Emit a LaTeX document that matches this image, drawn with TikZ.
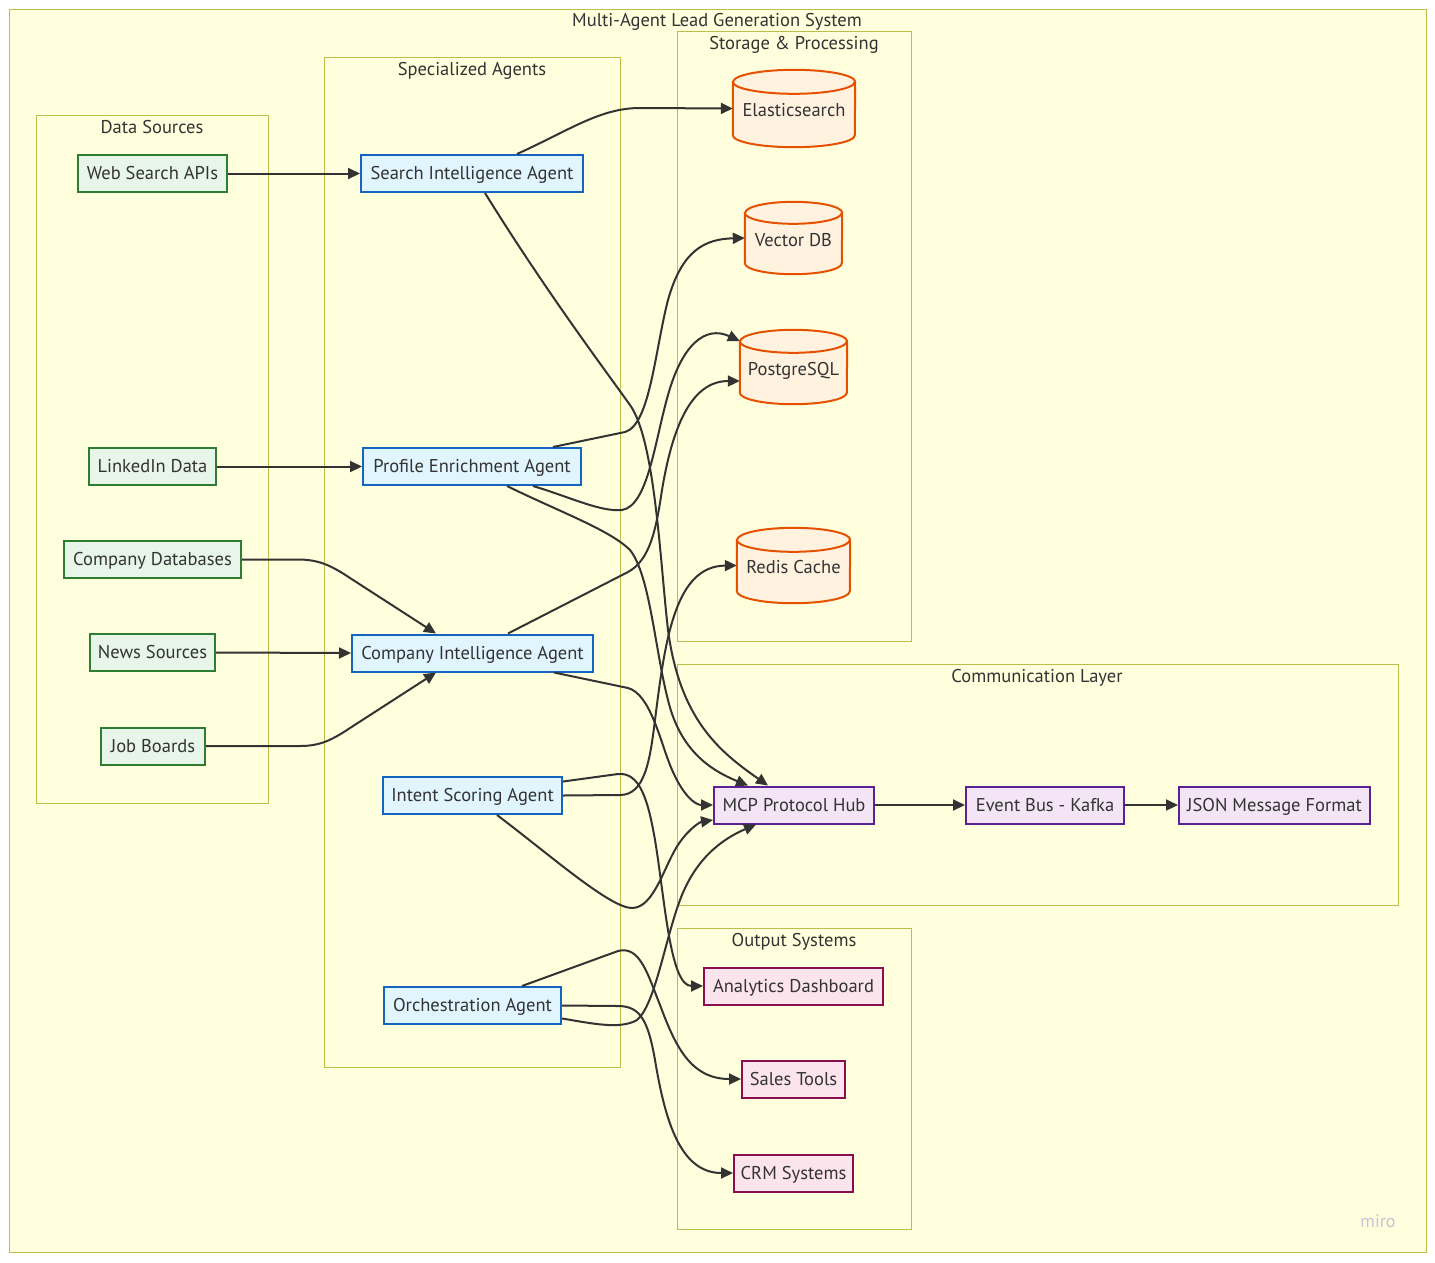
\documentclass[tikz,border=0pt]{standalone}
\usepackage{fontspec}
\setmainfont{PT Sans}
\usetikzlibrary{arrows.meta}
\definecolor{txt}{HTML}{333333}
\definecolor{edgec}{HTML}{333333}
\definecolor{clfill}{HTML}{FFFFDE}
\definecolor{clline}{HTML}{BDBD4A}
\definecolor{dsfill}{HTML}{E8F5E9}
\definecolor{dsline}{HTML}{2E7D32}
\definecolor{agfill}{HTML}{E1F5FE}
\definecolor{agline}{HTML}{1565C0}
\definecolor{stfill}{HTML}{FFF3E0}
\definecolor{stline}{HTML}{E65100}
\definecolor{cmfill}{HTML}{F3E5F5}
\definecolor{cmline}{HTML}{5B2296}
\definecolor{oufill}{HTML}{FCE4EC}
\definecolor{ouline}{HTML}{880E4F}
\definecolor{mirocol}{HTML}{C8C2D6}
\pgfdeclarelayer{bg}
\pgfdeclarelayer{mid}
\pgfsetlayers{bg,mid,main}
\newcommand\dbcyl[3]{%
  \filldraw[dbline] ([yshift=-#3]#1.north west) -- ([yshift=#3]#1.south west)
    arc[start angle=180,end angle=360,x radius=#2,y radius=#3]
    -- ([yshift=-#3]#1.north east)
    arc[start angle=0,end angle=180,x radius=#2,y radius=#3] -- cycle;
  \draw[dbline] ([yshift=-#3]#1.north west) arc[start angle=180,end angle=360,x radius=#2,y radius=#3];
}
\begin{document}
\begin{tikzpicture}[x=1pt,y=-1pt,
  font=\fontsize{18.5}{22}\selectfont, text=txt,
  every node/.append style={text height=14pt, text depth=1.5pt},
  clusterbox/.style={draw=clline, fill=clfill, line width=1pt, inner sep=0pt, text height=0pt, text depth=0pt},
  cltitle/.style={inner sep=0pt, anchor=center},
  basebox/.style={rectangle, line width=2pt, inner sep=0pt, minimum height=37pt},
  dsnode/.style={basebox, draw=dsline, fill=dsfill},
  agnode/.style={basebox, draw=agline, fill=agfill},
  cmnode/.style={basebox, draw=cmline, fill=cmfill},
  ounode/.style={basebox, draw=ouline, fill=oufill},
  dbbox/.style={rectangle, inner sep=0pt, text height=18pt},
  dbline/.style={draw=stline, fill=stfill, line width=2pt},
  flowline/.style={draw=edgec, line width=2pt, -{Triangle[length=12pt,width=11pt]}},
  mirostyle/.style={text=mirocol, inner sep=0pt, font=\fontsize{18}{20}\selectfont}
]
\useasboundingbox (0,0) rectangle (1435,1262);

% clusters
\begin{pgfonlayer}{bg}
\fill[white] (0,0) rectangle (1435,1262);
\node[clusterbox, minimum width=1417pt, minimum height=1243pt] (outer) at (717.5,630.5) {};
\node[clusterbox, minimum width=232pt, minimum height=688pt] (cds) at (152,459) {};
\node[clusterbox, minimum width=296pt, minimum height=1010pt] (csa) at (472,562) {};
\node[clusterbox, minimum width=234pt, minimum height=610pt] (csp) at (794,336) {};
\node[clusterbox, minimum width=721pt, minimum height=241pt] (ccl) at (1037.5,784.5) {};
\node[clusterbox, minimum width=234pt, minimum height=301pt] (cos) at (794,1078.5) {};
\end{pgfonlayer}

\node[cltitle] (touter) at (717,20) {Multi-Agent Lead Generation System};
\node[cltitle] (tds) at (152,127) {Data Sources};
\node[cltitle] (tsa) at (472,69) {Specialized Agents};
\node[cltitle] (tsp) at (794,43) {Storage \& Processing};
\node[cltitle] (tcl) at (1037,676) {Communication Layer};
\node[cltitle] (tos) at (794,940) {Output Systems};

% data sources
\node[dsnode, minimum width=149pt] (wsa) at (152.5,173.5) {Web Search APIs};
\node[dsnode, minimum width=127pt] (lnk) at (152.5,466.5) {LinkedIn Data};
\node[dsnode, minimum width=177pt] (cdb) at (152.5,559.5) {Company Databases};
\node[dsnode, minimum width=125pt] (news) at (152.5,652.5) {News Sources};
\node[dsnode, minimum width=104pt] (jb) at (153,746) {Job Boards};

% agents
\node[agnode, minimum width=222pt] (sia) at (472,173.5) {Search Intelligence Agent};
\node[agnode, minimum width=218pt] (pea) at (472,466.5) {Profile Enrichment Agent};
\node[agnode, minimum width=241pt] (cia) at (472.5,653) {Company Intelligence Agent};
\node[agnode, minimum width=179pt] (isa) at (472.5,795.5) {Intent Scoring Agent};
\node[agnode, minimum width=177pt] (orch) at (472.5,1005.5) {Orchestration Agent};

% storage
\node[dbbox, minimum width=122pt, minimum height=77pt] (es) at (794,108.5) {Elasticsearch};
\node[dbbox, minimum width=97pt, minimum height=72pt] (vdb) at (793.5,238) {Vector DB};
\node[dbbox, minimum width=107pt, minimum height=74pt] (pg) at (793.5,367) {PostgreSQL};
\node[dbbox, minimum width=113pt, minimum height=75pt] (rc) at (793.5,565.5) {Redis Cache};
\begin{pgfonlayer}{mid}
\dbcyl{es}{61pt}{12pt}
\dbcyl{vdb}{48.5pt}{11pt}
\dbcyl{pg}{53.5pt}{11.5pt}
\dbcyl{rc}{56.5pt}{12pt}
\end{pgfonlayer}

% communication
\node[cmnode, minimum width=160pt] (mcp) at (794,805) {MCP Protocol Hub};
\node[cmnode, minimum width=158pt] (eb) at (1045,805) {Event Bus - Kafka};
\node[cmnode, minimum width=191pt] (json) at (1274.5,805) {JSON Message Format};

% outputs
\node[ounode, minimum width=179pt] (ad) at (793.5,986) {Analytics Dashboard};
\node[ounode, minimum width=103pt] (st) at (793.5,1079) {Sales Tools};
\node[ounode, minimum width=119pt] (crm) at (793.5,1173) {CRM Systems};

\node[mirostyle] (miro) at (1378,1221) {miro};

% edges: sources -> agents
\draw[flowline] (wsa.east) -- (sia.west);
\draw[flowline] (lnk.east) -- (pea.west);
\draw[flowline] (news.east) -- (cia.west);
\draw[flowline] (cdb.east) -- (300,0 |- cdb.east) .. controls (320,560) and (332,566) .. (350,578) -- (436,0 |- cia.north);
\draw[flowline] (jb.east) -- (300,0 |- jb.east) .. controls (320,746) and (332,740) .. (350,728) -- (436,0 |- cia.south);

% agents -> storage
\draw[flowline] (517,0 |- sia.north) .. controls (570,130) and (600,108) .. (640,108) -- (es.west);
\draw[flowline] (553,0 |- pea.north) -- (625,432) .. controls (650,425) and (655,350) .. (668,300) .. controls (682,250) and (705,239) .. (vdb.west);
\draw[flowline] (533,0 |- pea.south) .. controls (570,497) and (600,512) .. (622,510) .. controls (648,506) and (655,440) .. (668,395) .. controls (682,345) and (705,325) .. ([yshift=26pt]pg.west);
\draw[flowline] (508,0 |- cia.north) -- (628,572) .. controls (650,560) and (656,530) .. (662,490) .. controls (672,430) and (690,381) .. ([yshift=-14pt]pg.west);
\draw[flowline] (isa.east) -- (620,795) .. controls (645,795) and (650,760) .. (655,720) .. controls (665,640) and (675,566) .. (rc.west);

% agents -> MCP
\draw[flowline] (485,0 |- sia.south) .. controls (545,290) and (605,370) .. (630,405) .. controls (655,440) and (660,560) .. (668,630) .. controls (680,720) and (720,752) .. (768,0 |- mcp.north);
\draw[flowline] (507,0 |- pea.south) .. controls (560,512) and (610,530) .. (630,550) .. controls (650,575) and (655,650) .. (668,700) .. controls (680,750) and (710,770) .. (748,0 |- mcp.north);
\draw[flowline] (554,0 |- cia.south) -- (628,688) .. controls (650,694) and (660,740) .. (670,765) .. controls (682,795) and (695,805) .. (mcp.west);
\draw[flowline] (497,0 |- isa.south) .. controls (550,855) and (610,908) .. (632,908) .. controls (655,908) and (665,862) .. (680,842) .. controls (690,828) and (700,822) .. ([yshift=-15pt]mcp.west);
\draw[flowline] ([yshift=-13pt]orch.east) .. controls (590,1023) and (620,1030) .. (637,1020) .. controls (655,1005) and (665,940) .. (680,900) .. controls (695,860) and (720,840) .. (756,0 |- mcp.south);

% agents -> outputs
\draw[flowline] ([yshift=14pt]isa.east) -- (618,774) .. controls (640,772) and (648,800) .. (655,840) .. controls (665,900) and (670,986) .. (ad.west);
\draw[flowline] (522,0 |- orch.north) -- (618,951) .. controls (640,945) and (648,975) .. (660,1005) .. controls (675,1045) and (690,1079) .. (st.west);
\draw[flowline] (orch.east) -- (618,1006) .. controls (640,1006) and (648,1020) .. (655,1060) .. controls (665,1120) and (680,1173) .. (crm.west);

% communication chain
\draw[flowline] (mcp.east) -- (eb.west);
\draw[flowline] (eb.east) -- (json.west);
\end{tikzpicture}
\end{document}
